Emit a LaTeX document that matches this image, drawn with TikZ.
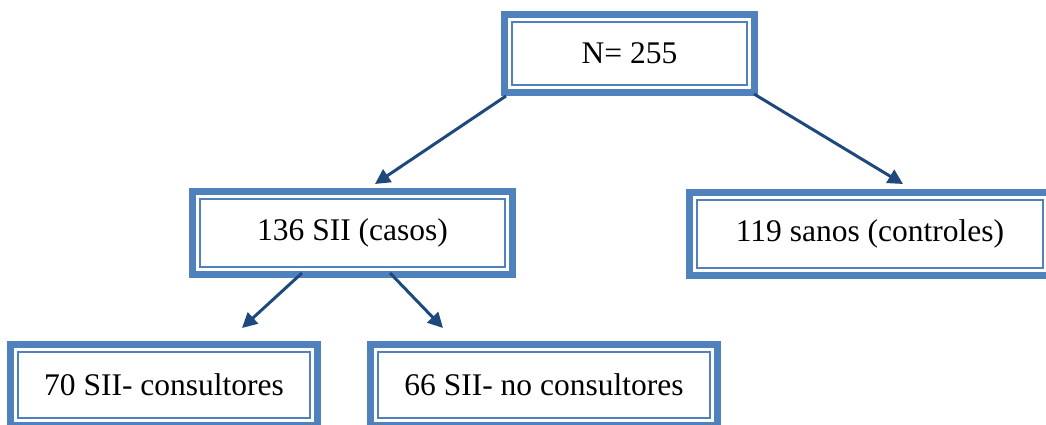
\documentclass[tikz,border=0pt]{standalone}
\usepackage{fontspec}
\setmainfont{Liberation Serif}
\usetikzlibrary{arrows.meta}
\definecolor{boxblue}{HTML}{4F81BD}
\definecolor{arrowblue}{HTML}{1F497D}
\tikzset{
  innerbox/.style={draw=boxblue, line width=2pt, inner sep=0pt, fill=white,
    font=\fontsize{31.5}{36}\selectfont, text=black},
  frame/.style={draw=boxblue, line width=7pt},
  conn/.style={draw=arrowblue, line width=3pt,
    -{Triangle[length=15pt,width=15pt]}, shorten >=0pt}
}
\begin{document}
\begin{tikzpicture}[x=1pt,y=1pt]
\useasboundingbox (0,0) rectangle (1046,425);
\clip (0,0) rectangle (1046,425);
\node[innerbox, minimum width=235pt, minimum height=63pt] (top) at (629.5,371.5) {N= 255};
\node[innerbox, minimum width=305pt, minimum height=68pt] (b2) at (352.5,192) {136 SII (casos)};
\node[innerbox, minimum width=346pt, minimum height=68pt] (b3) at (870,191) {119 sanos (controles)};
\node[innerbox, minimum width=292pt, minimum height=66pt] (b4) at (164,40) {70 SII- consultores};
\node[innerbox, minimum width=332pt, minimum height=66pt] (b5) at (544,40) {66 SII- no consultores};
\foreach \n in {top,b2,b3,b4,b5}
  \draw[frame] ([shift={(-6.5,-6.5)}]\n.south west) rectangle ([shift={(6.5,6.5)}]\n.north east);
\draw[conn] ([shift={(-5,-10)}]top.south west) -- ([shift={(22.5,14)}]b2.north);
\draw[conn] ([shift={(6,-8)}]top.south east) -- ([shift={(33,15)}]b3.north);
\draw[conn] ([shift={(-50.5,-5)}]b2.south) -- ([shift={(78,23)}]b4.north);
\draw[conn] ([shift={(37.5,-5)}]b2.south) -- ([shift={(-101,23)}]b5.north);
\end{tikzpicture}
\end{document}
